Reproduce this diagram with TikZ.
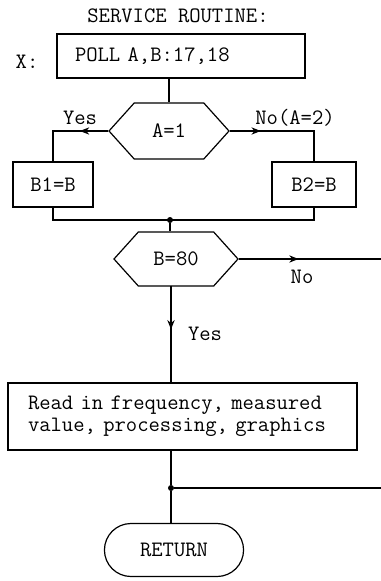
\documentclass[tikz,border=0pt]{standalone}
\usetikzlibrary{arrows.meta, shapes.symbols, shapes.misc, decorations.markings}
\tikzset{
  flow line/.style={
    line width=0.9pt
  },
  mid arrow/.style={
    postaction={decorate},
    decoration={markings, mark=at position #1 with {\arrow{Stealth[length=7pt, width=5.5pt]}}}
  },
  mid arrow/.default=0.5,
  proc box/.style={
    draw,
    line width=0.9pt,
    rectangle,
    inner ysep=2pt
  },
  test hex/.style={
    draw,
    line width=0.9pt,
    signal,
    signal to=west and east,
    signal pointer angle=96,
    inner sep=0pt
  },
  term box/.style={
    draw,
    line width=0.9pt,
    rounded rectangle,
    minimum width=111pt,
    minimum height=39.75pt
  },
  joint dot/.style={
    circle,
    fill,
    inner sep=0pt,
    minimum size=4.5pt
  },
  txt/.style={
    font=\ttfamily\fontsize{16.5}{16.5}\selectfont
  }
}

\begin{document}
\begin{tikzpicture}[x=0.75pt, y=-0.75pt, txt]
    \useasboundingbox (0,0) rectangle (381,581);

    % Kopf
    \node (title) at (178,16) {SERVICE ROUTINE:};
    \node (xlab) at (27,62) {X:};
    \node[proc box, text width=159pt, align=left, inner xsep=13.5pt, minimum height=33pt] (poll) at (181,56) {POLL A,B:17,18};

    % Abfrage A
    \node[test hex, minimum width=90pt, minimum height=42pt] (hexA) at (169,131) {A=1};
    \node[proc box, minimum width=60pt, minimum height=33.75pt] (b1) at (53,184.5) {B1=B};
    \node[proc box, minimum width=63pt, minimum height=33.75pt] (b2) at (314,184.5) {B2=B};
    \node (yesA) at (80,118) {Yes};
    \node (noA) at (295,118) {No(A=2)};

    \draw[flow line] (poll.south -| hexA.north) -- (hexA.north);
    \draw[flow line, mid arrow=0.33] (hexA.west) -- (b1.north |- hexA.west) -- (b1.north);
    \draw[flow line, mid arrow=0.27] (hexA.east) -- (b2.north |- hexA.east) -- (b2.north);

    % Zusammenfuehrung
    \node[joint dot] (j1) at (170,220) {};
    \draw[flow line] (b1.south) -- (b1.south |- j1) -- (b2.south |- j1) -- (b2.south);

    % Abfrage B
    \node[test hex, minimum width=93pt, minimum height=40.5pt] (hexB) at (176,259) {B=80};
    \coordinate (noEnd) at (381,259);
    \node (noB) at (302,277) {No};
    \node (yesB) at (205,334) {Yes};
    \draw[flow line] (j1) -- (j1 |- hexB.north);
    \draw[flow line, mid arrow=0.42] (hexB.east) -- (noEnd);

    % Verarbeitung
    \node[proc box, text width=231.75pt, align=left, inner xsep=15pt, minimum height=50.25pt] (read) at (182.5,416.5) {Read in frequency, measured\\value, processing, graphics};
    \draw[flow line, mid arrow=0.45] (171,285.5) -- (171,383);

    % Ruecksprung
    \node[joint dot] (j2) at (171,488) {};
    \coordinate (loopEnd) at (381,488);
    \node[term box] (ret) at (174,550) {RETURN};
    \draw[flow line] (j2 |- read.south) -- (j2) -- (j2 |- ret.north);
    \draw[flow line] (j2) -- (loopEnd);
\end{tikzpicture}
\end{document}
